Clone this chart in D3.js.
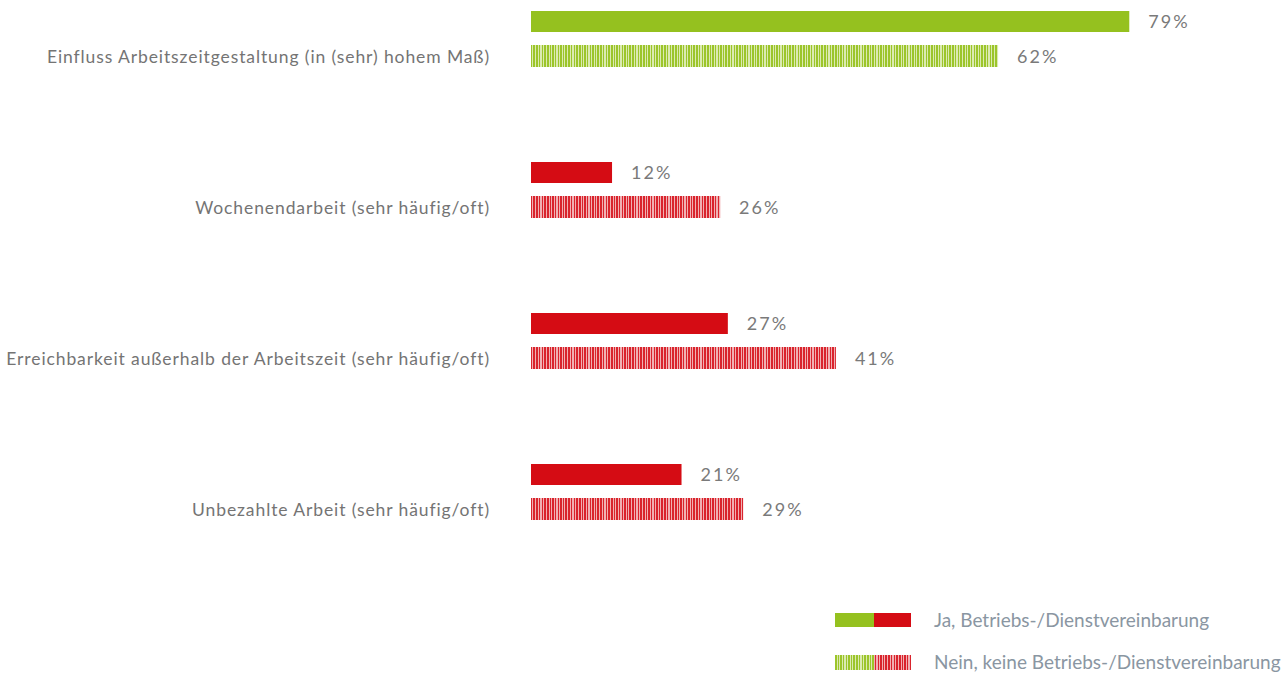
<!DOCTYPE html>
<html><head><meta charset="utf-8">
<script src="https://cdn.jsdelivr.net/npm/d3@7"></script>
<style>body{margin:0;background:#fff}svg{display:block}</style>
</head><body>
<svg id="c" width="1286" height="673"></svg>
<script>
const categories = [
  "Einfluss Arbeitszeitgestaltung (in (sehr) hohem Maß)",
  "Wochenendarbeit (sehr häufig/oft)",
  "Erreichbarkeit außerhalb der Arbeitszeit (sehr häufig/oft)",
  "Unbezahlte Arbeit (sehr häufig/oft)"
];
const jaValues = [79, 12, 27, 21];
const neinValues = [62, 26, 41, 29];
const categoryColor = ["green", "red", "red", "red"];
const legendLabels = ["Ja, Betriebs-/Dienstvereinbarung", "Nein, keine Betriebs-/Dienstvereinbarung"];

const svg = d3.select("#c");
const colors = {
  green: {solid: "#95c11f", dark: "#9cc52a", light: "#dbeab0"},
  red: {solid: "#d50c14", dark: "#d9242d", light: "#f1b0b3"}
};

// stripe patterns
const stripeSeq = [2,1,2,1,1,1,2,1,1,2,1,1,2,1,1,1,2,1,2,1,1,2,1,1];
const defs = svg.append("defs");
Object.entries(colors).forEach(([k, c]) => {
  const total = d3.sum(stripeSeq);
  const p = defs.append("pattern").attr("id", "st-" + k)
    .attr("patternUnits", "userSpaceOnUse").attr("width", total).attr("height", 40);
  p.append("rect").attr("width", total).attr("height", 40).attr("fill", "#fff");
  let xx = 0;
  stripeSeq.forEach((w, i) => {
    p.append("rect").attr("x", xx).attr("width", w).attr("height", 40)
      .attr("fill", i % 2 === 0 ? c.dark : c.light);
    xx += w;
  });
});

const x = d3.scaleLinear().domain([0, 100]).range([519.4, 1291.4]);
const barStart = 531;
const y = d3.scaleBand().domain(categories).range([11, 615]).paddingInner(0).paddingOuter(0);
const barH = 21, pitch = 34;

const g = svg.append("g");
categories.forEach((cat, i) => {
  const y0 = y(cat);
  const col = colors[categoryColor[i]];
  g.append("rect").attr("x", barStart).attr("y", y0).attr("width", x(jaValues[i]) - barStart)
    .attr("height", barH).attr("fill", col.solid);
  g.append("rect").attr("x", barStart).attr("y", y0 + pitch).attr("width", x(neinValues[i]) - barStart)
    .attr("height", barH + 1).attr("fill", `url(#st-${categoryColor[i]})`);
  g.append("text").attr("x", x(jaValues[i]) + 19).attr("y", y0 + barH / 2).attr("dy", "0.35em")
    .attr("font-family", "Lato, sans-serif").attr("font-size", 18).attr("letter-spacing", 2).attr("fill", "#7a7a7a")
    .text(jaValues[i] + "%");
  g.append("text").attr("x", x(neinValues[i]) + 19).attr("y", y0 + pitch + barH / 2 + 1).attr("dy", "0.35em")
    .attr("font-family", "Lato, sans-serif").attr("font-size", 18).attr("letter-spacing", 2).attr("fill", "#7a7a7a")
    .text(neinValues[i] + "%");
  g.append("text").attr("x", 490).attr("y", y0 + pitch + barH / 2 + 1).attr("dy", "0.35em")
    .attr("text-anchor", "end")
    .attr("font-family", "Lato, sans-serif").attr("font-size", 17.5).attr("letter-spacing", 0.9).attr("fill", "#747474")
    .text(cat);
});

// legend
const lg = svg.append("g");
lg.append("rect").attr("x", 835).attr("y", 613).attr("width", 39).attr("height", 14).attr("fill", colors.green.solid);
lg.append("rect").attr("x", 874).attr("y", 613).attr("width", 37).attr("height", 14).attr("fill", colors.red.solid);
lg.append("rect").attr("x", 835).attr("y", 655).attr("width", 39).attr("height", 15).attr("fill", "url(#st-green)");
lg.append("rect").attr("x", 874).attr("y", 655).attr("width", 37).attr("height", 15).attr("fill", "url(#st-red)");
legendLabels.forEach((t, i) => {
  lg.append("text").attr("x", 934).attr("y", 620 + i * 42).attr("dy", "0.35em")
    .attr("font-family", "Lato, sans-serif").attr("font-size", 19).attr("fill", "#8a96a2")
    .text(t);
});
</script>
</body></html>
